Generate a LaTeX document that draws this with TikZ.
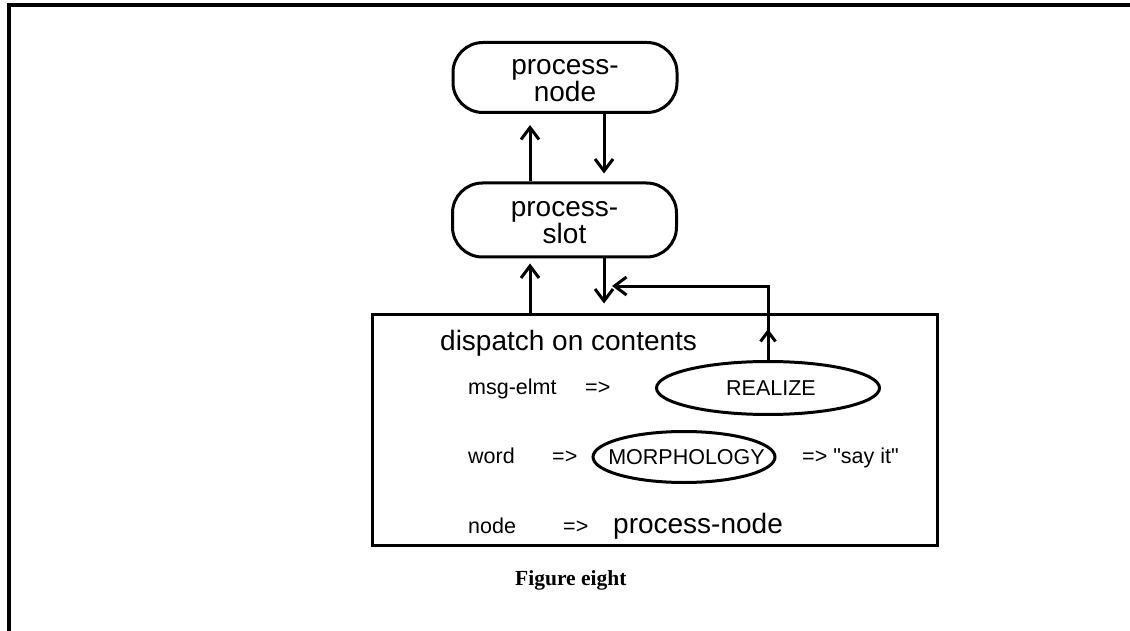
\documentclass[tikz,border=0pt]{standalone}
\usepackage{fontspec}
\setmainfont{Liberation Sans}
\newfontfamily\capfont{Liberation Serif}
\usetikzlibrary{arrows.meta,shapes.geometric,decorations.markings}

\begin{document}
\begin{tikzpicture}[x=1pt,y=-1pt,
  lw/.style={line width=3pt},
  procbox/.style={draw, lw, rounded corners=30pt, minimum width=224pt,
    minimum height=70pt, align=center, inner sep=0pt,
    font=\fontsize{28}{27}\selectfont},
  oval/.style={draw, lw, ellipse, inner sep=0pt,
    font=\fontsize{21.5}{24}\selectfont},
  small/.style={font=\fontsize{21.5}{24}\selectfont, inner sep=0pt, anchor=base west},
  big/.style={font=\fontsize{28}{30}\selectfont, inner sep=0pt, anchor=base west},
  arr/.style={lw, -{Straight Barb[length=12pt,width=18pt]}},
  midup/.style={postaction={decorate}, decoration={markings,
    mark=at position 31pt with {\arrow{Straight Barb[length=10pt,width=15pt]}}}},
]
\useasboundingbox (0,0) rectangle (1130,631);

% page frame (left and top edges)
\draw[line width=4pt] (9,631) -- (9,5) -- (1130,5);

% the two process boxes
\node[procbox] (pn) at (565,77.5) {\vphantom{d}process-\\node};
\node[procbox, minimum height=74pt] (ps) at (564.5,220) {\vphantom{d}process-\\slot};

% the dispatch box
\node[draw, lw, minimum width=565pt, minimum height=231pt, inner sep=0pt]
  (disp) at (654.5,429.5) {};

\node[big] (title) at (440,350) {dispatch on contents};

\node[small] (msg) at (468,394) {msg-elmt};
\node[small] (eq1) at (585,394) {=>};
\node[oval, minimum width=223pt, minimum height=53pt] (realize) at (768,388)
  {\makebox[0pt]{\hspace{6pt}REALIZE}};

\node[small] (word) at (468,463) {word};
\node[small] (eq2) at (552,463) {=>};
\node[oval, minimum width=182pt, minimum height=51pt] (morph) at (684,457)
  {\makebox[0pt]{\hspace{5pt}MORPHOLOGY}};
\node[small] (say) at (802,463) {=> \textquotedbl say it\textquotedbl};

\node[small] (nd) at (468,533) {node};
\node[small] (eq3) at (563,533) {=>};
\node[big] (pnode) at (613,533) {process-node};

\node[font=\capfont\bfseries\fontsize{21.5}{24}\selectfont, inner sep=0pt, anchor=base west]
  (cap) at (515,585) {Figure eight};

% control flow
\coordinate (xl) at (530,0);
\coordinate (xr) at (604,0);
\coordinate (fb) at (768,286);

\draw[arr, shorten >=11pt] (ps.north -| xl) -- (pn.south -| xl);
\draw[arr, shorten >=8pt] (pn.south -| xr) -- (ps.north -| xr);
\draw[arr, shorten >=5pt] (disp.north -| xl) -- (ps.south -| xl);
\draw[arr, shorten >=9pt] (ps.south -| xr) -- (disp.north -| xr);
\draw[arr, midup, shorten >=8pt] (realize.north) -- (fb) -- (fb -| xr);
\end{tikzpicture}
\end{document}
